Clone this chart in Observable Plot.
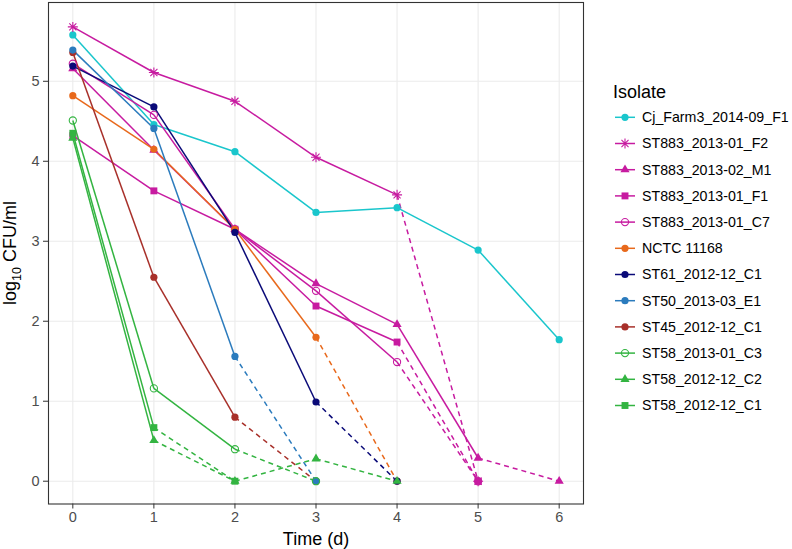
<!DOCTYPE html>
<html><head><meta charset="utf-8">
<script src="https://cdn.jsdelivr.net/npm/d3@7"></script>
<script src="https://cdn.jsdelivr.net/npm/@observablehq/plot@0.6"></script>
<style>body{margin:0;background:#fff;} #chart{width:792px;height:549px;}</style>
</head><body><div id="chart"></div>
<script>
// ---- data ----
const days = [0, 1, 2, 3, 4, 5, 6];
const yTicks = [0, 1, 2, 3, 4, 5];
const isolates = [
  "Cj_Farm3_2014-09_F1", "ST883_2013-01_F2", "ST883_2013-02_M1", "ST883_2013-01_F1",
  "ST883_2013-01_C7", "NCTC 11168", "ST61_2012-12_C1", "ST50_2013-03_E1",
  "ST45_2012-12_C1", "ST58_2013-01_C3", "ST58_2012-12_C2", "ST58_2012-12_C1"
];
const seriesColors = [
  "#1AC6CC", "#C71BA0", "#C71BA0", "#C71BA0", "#C71BA0", "#E8691C",
  "#0A0A78", "#2B7BBD", "#A8302A", "#33B441", "#33B441", "#33B441"
];
const seriesShapes = [
  "circle", "star", "triangle", "square", "circleOpen", "circle",
  "circle", "circle", "circle", "circleOpen", "triangle", "square"
];
const cjFarm3_F1 = [5.58, 4.46, 4.12, 3.36, 3.42, 2.89, 1.77];
const st883_F2   = [5.68, 5.11, 4.75, 4.05, 3.58, 0];
const st883_M1   = [5.16, 4.14, 3.15, 2.47, 1.96, 0.29, 0];
const st883_F1   = [4.32, 3.63, 3.15, 2.19, 1.74, 0];
const st883_C7   = [5.22, 4.58, 3.15, 2.38, 1.49, 0];
const nctc11168  = [4.82, 4.15, 3.15, 1.80, 0];
const st61_C1    = [5.19, 4.68, 3.11, 0.99, 0];
const st50_E1    = [5.39, 4.41, 1.56, 0];
const st45_C1    = [5.36, 2.55, 0.80, 0];
const st58_C3    = [4.51, 1.16, 0.40, 0];
const st58_C2    = [4.29, 0.51, 0, 0.28, 0];
const st58_C1    = [4.35, 0.67, 0];
const seriesValues = [cjFarm3_F1, st883_F2, st883_M1, st883_F1, st883_C7, nctc11168,
  st61_C1, st50_E1, st45_C1, st58_C3, st58_C2, st58_C1];
// drawing order (ST45 under ST50 at day 0)
const drawOrder = [0, 1, 2, 3, 4, 5, 6, 8, 7, 9, 10, 11];

// ---- symbols ----
const star8 = {
  draw(ctx, size) {
    const r = Math.sqrt(size / Math.PI), d = r * Math.SQRT1_2;
    ctx.moveTo(-r, 0); ctx.lineTo(r, 0);
    ctx.moveTo(0, -r); ctx.lineTo(0, r);
    ctx.moveTo(-d, -d); ctx.lineTo(d, d);
    ctx.moveTo(-d, d); ctx.lineTo(d, -d);
  }
};
function symbolStyle(shape, color) {
  switch (shape) {
    case "star": return {symbol: star8, r: 5, fill: "none", stroke: color, strokeWidth: 1.1};
    case "triangle": return {symbol: "triangle", r: 3.4, fill: color, stroke: "none"};
    case "square": return {symbol: "square", r: 3.9, fill: color, stroke: "none"};
    case "circleOpen": return {symbol: "circle", r: 3.6, fill: "none", stroke: color, strokeWidth: 1.1};
    default: return {symbol: "circle", r: 3.6, fill: color, stroke: "none"};
  }
}

// ---- tables ----
const rows = isolates.map((iso, i) => seriesValues[i].map((v, k) => ({isolate: iso, day: days[k], cfu: v})));
const segs = rows.map(r => d3.pairs(r).map(([a, b]) => ({x1: a.day, y1: a.cfu, x2: b.day, y2: b.cfu, dashed: a.cfu === 0 || b.cfu === 0})));

const lineMarks = [];
const dotMarks = [];
for (const i of drawOrder) {
  const c = seriesColors[i];
  lineMarks.push(Plot.link(segs[i].filter(s => !s.dashed), {x1: "x1", y1: "y1", x2: "x2", y2: "y2", stroke: c, strokeWidth: 1.5}));
  lineMarks.push(Plot.link(segs[i].filter(s => s.dashed), {x1: "x1", y1: "y1", x2: "x2", y2: "y2", stroke: c, strokeWidth: 1.5, strokeDasharray: "5,4"}));
  dotMarks.push(Plot.dot(rows[i], {x: "day", y: "cfu", ...symbolStyle(seriesShapes[i], c)}));
}

const plot = Plot.plot({
  width: 792, height: 549,
  marginLeft: 48, marginRight: 209, marginTop: 2, marginBottom: 45.5,
  style: {fontFamily: "'Liberation Sans', Arial, sans-serif", background: "#fff", overflow: "visible"},
  x: {domain: [-0.3, 6.3]},
  y: {domain: [-0.285, 5.985]},
  marks: [
    Plot.gridX(days, {stroke: "#EBEBEB", strokeOpacity: 1, strokeWidth: 1.1}),
    Plot.gridY(yTicks, {stroke: "#EBEBEB", strokeOpacity: 1, strokeWidth: 1.1}),
    ...lineMarks,
    ...dotMarks,
    Plot.frame({stroke: "#333333", strokeWidth: 1.1}),
    Plot.axisX(days, {tickSize: 5, tickPadding: 3, fontSize: 14.5, stroke: "#333333", fill: "#4D4D4D", label: null, tickFormat: d => String(d)}),
    Plot.axisY(yTicks, {tickSize: 5, tickPadding: 4, fontSize: 14.5, stroke: "#333333", fill: "#4D4D4D", label: null, tickFormat: d => String(d)}),
    Plot.text(["Time (d)"], {frameAnchor: "bottom", lineAnchor: "middle", dy: 35, fontSize: 18, fill: "#000"})
  ]
});
document.getElementById("chart").appendChild(plot);

// ---- y axis title with subscript ----
const svg = d3.select(plot);
const yt = svg.append("text")
  .attr("transform", "translate(16,253) rotate(-90)")
  .attr("text-anchor", "middle")
  .attr("font-size", 18).attr("fill", "#000")
  .attr("font-family", "'Liberation Sans', Arial, sans-serif");
yt.append("tspan").text("log");
yt.append("tspan").attr("font-size", 12.5).attr("dy", 5).text("10");
yt.append("tspan").attr("dy", -5).text(" CFU/ml");

// ---- legend ----
const lg = svg.append("g").attr("font-family", "'Liberation Sans', Arial, sans-serif").attr("text-anchor", "start");
lg.append("text").attr("x", 613).attr("y", 92).attr("dy", "0.35em")
  .attr("font-size", 18).attr("fill", "#000").text("Isolate");
isolates.forEach((iso, i) => {
  const y = 117.3 + 26.2 * i;
  const c = seriesColors[i];
  const st = symbolStyle(seriesShapes[i], c);
  const g = lg.append("g").attr("transform", `translate(0,${y})`);
  g.append("line").attr("x1", 615).attr("x2", 635).attr("y1", 0).attr("y2", 0)
    .attr("stroke", c).attr("stroke-width", 1.5);
  const type = st.symbol === star8 ? star8 : st.symbol === "triangle" ? d3.symbolTriangle : st.symbol === "square" ? d3.symbolSquare : d3.symbolCircle;
  g.append("path").attr("transform", "translate(625,0)")
    .attr("d", d3.symbol().type(type).size(Math.PI * st.r * st.r)())
    .attr("fill", st.fill).attr("stroke", st.stroke).attr("stroke-width", st.strokeWidth || 0);
  g.append("text").attr("x", 642).attr("y", 0).attr("dy", "0.35em")
    .attr("font-size", 14.2).attr("fill", "#000").text(iso);
});
</script>
</body></html>
